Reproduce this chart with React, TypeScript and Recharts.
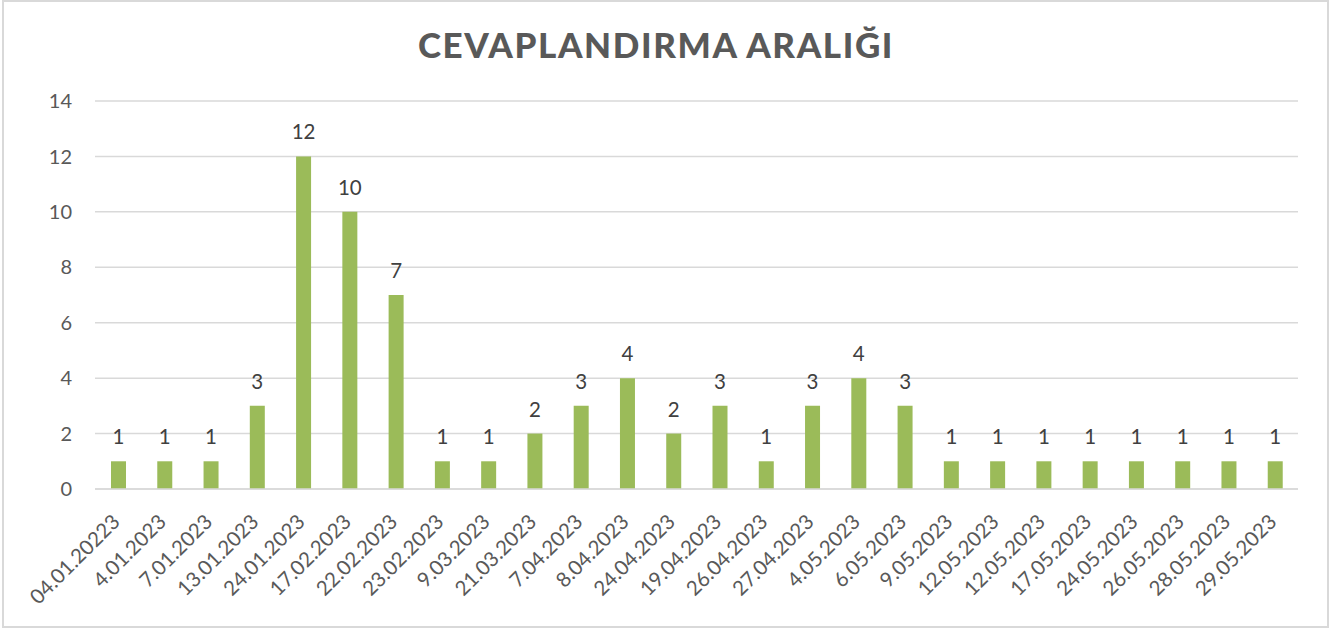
import React from "react";
import { BarChart, Bar, XAxis, YAxis, CartesianGrid, LabelList } from "recharts";

const categories = [
  "04.01.20223",
  "4.01.2023",
  "7.01.2023",
  "13.01.2023",
  "24.01.2023",
  "17.02.2023",
  "22.02.2023",
  "23.02.2023",
  "9.03.2023",
  "21.03.2023",
  "7.04.2023",
  "8.04.2023",
  "24.04.2023",
  "19.04.2023",
  "26.04.2023",
  "27.04.2023",
  "4.05.2023",
  "6.05.2023",
  "9.05.2023",
  "12.05.2023",
  "12.05.2023",
  "17.05.2023",
  "24.05.2023",
  "26.05.2023",
  "28.05.2023",
  "29.05.2023",
];

const values = [1, 1, 1, 3, 12, 10, 7, 1, 1, 2, 3, 4, 2, 3, 1, 3, 4, 3, 1, 1, 1, 1, 1, 1, 1, 1];

const yTicks = [0, 2, 4, 6, 8, 10, 12, 14];

const data = categories.map((name, i) => ({ name, value: values[i] }));

const FONT = "Lato, 'Open Sans', sans-serif";

function XTick(props: any) {
  const { x, y, payload } = props;
  return (
    <g transform={`translate(${x + 3},${y + 32})`}>
      <text
        x={0}
        y={0}
        textAnchor="end"
        transform="rotate(-45)"
        fill="#595959"
        fontSize={20.5}
        fontFamily={FONT}
      >
        {payload.value}
      </text>
    </g>
  );
}

export default function App() {
  return (
    <div style={{ position: "absolute", left: 0, top: 0, width: 1344, height: 630, background: "#fff" }}>
      <div
        style={{
          position: "absolute",
          left: 2,
          top: 0,
          width: 1327,
          height: 628,
          border: "2px solid #D9D9D9",
          boxSizing: "border-box",
        }}
      />
      <div
        style={{
          position: "absolute",
          left: 0,
          top: 22,
          width: 1312,
          textAlign: "center",
          fontFamily: FONT,
          fontWeight: 900,
          fontSize: 35,
          letterSpacing: 1.6,
          color: "#595959",
          lineHeight: "44px",
        }}
      >
        CEVAPLANDIRMA ARALIĞI
      </div>
      <div style={{ position: "absolute", left: 0, top: 0 }}>
        <BarChart
          width={1344}
          height={630}
          data={data}
          margin={{ top: 101, right: 46, bottom: 0, left: 0 }}
          barSize={15}
        >
          <CartesianGrid vertical={false} stroke="#D9D9D9" strokeWidth={1.5} />
          <XAxis
            dataKey="name"
            interval={0}
            height={141}
            tickLine={false}
            axisLine={{ stroke: "#D9D9D9", strokeWidth: 1.5 }}
            tickSize={0}
            tick={<XTick />}
          />
          <YAxis
            domain={[0, 14]}
            ticks={yTicks}
            width={95}
            tickLine={false}
            axisLine={false}
            tickSize={0}
            tickMargin={23}
            tick={{ fill: "#595959", fontSize: 20, fontFamily: FONT }}
          />
          <Bar dataKey="value" fill="#9BBB59" isAnimationActive={false}>
            <LabelList
              dataKey="value"
              position="top"
              offset={17}
              fill="#404040"
              fontSize={20.5}
              fontFamily={FONT}
            />
          </Bar>
        </BarChart>
      </div>
    </div>
  );
}
